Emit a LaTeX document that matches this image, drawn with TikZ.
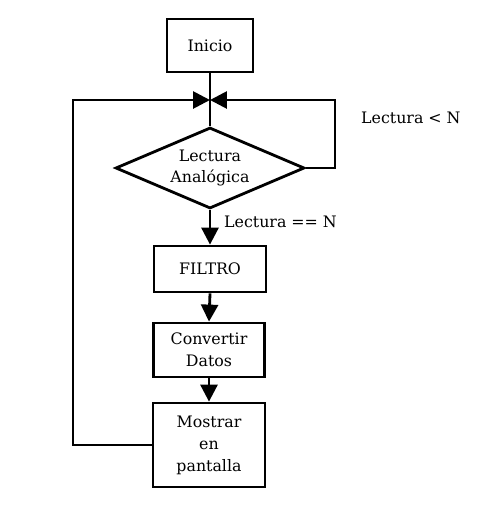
\documentclass[tikz,border=0pt]{standalone}
\usepackage{fontspec}
\setmainfont{DejaVu Serif}
\usetikzlibrary{arrows.meta,shapes.geometric}

\begin{document}
\begin{tikzpicture}[x=0.02cm,y=-0.02cm,
    caja/.style={draw,line width=1.6pt,align=center,inner sep=2pt,font=\fontsize{9}{12.5}\selectfont},
    decision/.style={draw,diamond,line width=1.6pt,align=center,inner sep=0pt,aspect=2.3,minimum width=3.78cm,minimum height=1.62cm,font=\fontsize{9}{12.5}\selectfont},
    linea/.style={line width=1.6pt},
    flecha/.style={line width=1.6pt,-{Triangle[length=0.34cm,width=0.34cm]}},
    etiqueta/.style={font=\fontsize{9}{12.5}\selectfont}]
    \useasboundingbox (0,0) rectangle (480,505);
    % Blocks
    \node[caja,minimum width=1.72cm,minimum height=1.06cm] (inicio) at (210,45.5) {Inicio};
    \coordinate (union) at (210,100);
    \node[decision] (lectura) at (210,168) {Lectura\\Analógica};
    \node[caja,minimum width=2.24cm,minimum height=0.92cm] (filtro) at (210,269) {FILTRO};
    \node[caja,minimum width=2.22cm,minimum height=1.08cm] (convertir) at (209,350) {Convertir\\Datos};
    \node[caja,minimum width=2.24cm,minimum height=1.68cm] (mostrar) at (209,445) {Mostrar\\en\\pantalla};
    % Main flow
    \draw[linea] (inicio.south) -- (lectura.north);
    \draw[flecha] (lectura.south) -- (filtro.north);
    \draw[flecha] (filtro.south) -- (convertir.north);
    \draw[flecha] (convertir.south) -- (mostrar.north);
    % Loops back to the junction
    \coordinate (derecha) at (335,100);
    \coordinate (izquierda) at (73,100);
    \draw[flecha] (lectura.east) -| (derecha) -- (union);
    \draw[flecha] (mostrar.west) -| (izquierda) -- (union);
    % Conditions
    \node[etiqueta,anchor=west] (menor) at (355,118) {Lectura < N};
    \node[etiqueta,anchor=west] (igual) at (218,222) {Lectura == N};
\end{tikzpicture}
\end{document}
